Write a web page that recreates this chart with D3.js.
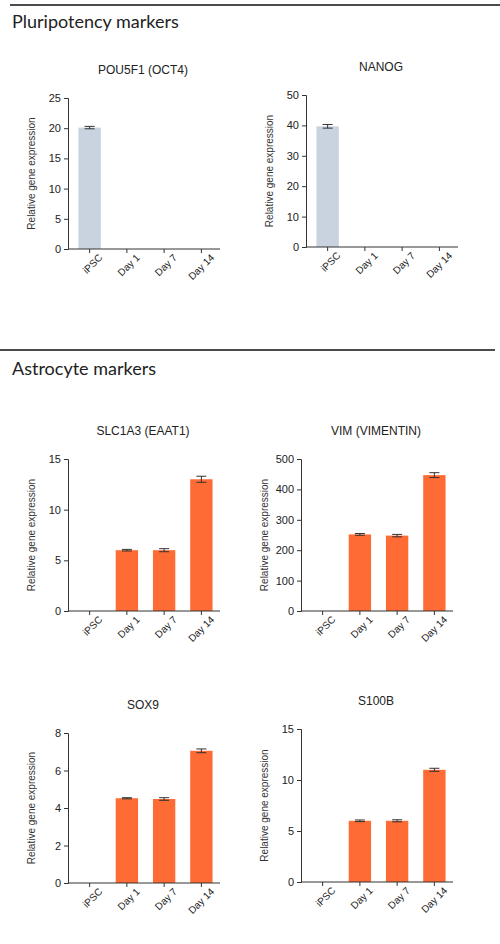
<!DOCTYPE html>
<html><head><meta charset="utf-8">
<script src="https://cdn.jsdelivr.net/npm/d3@7"></script>
<style>body{margin:0;background:#fff;font-family:Lato,"Open Sans",sans-serif}</style>
</head><body><div id="graph"></div>
<script>
var categories = ["iPSC", "Day 1", "Day 7", "Day 14"];

var oct4Values = [20.1, 0, 0, 0],   oct4Err = [0.2, 0, 0, 0],   oct4Ticks = [0, 5, 10, 15, 20, 25];
var nanogValues = [39.7, 0, 0, 0],  nanogErr = [0.6, 0, 0, 0],  nanogTicks = [0, 10, 20, 30, 40, 50];
var slcValues = [0, 6.0, 6.0, 13.0], slcErr = [0, 0.08, 0.15, 0.3], slcTicks = [0, 5, 10, 15];
var vimValues = [0, 252, 248, 447],  vimErr = [0, 3, 4, 8],     vimTicks = [0, 100, 200, 300, 400, 500];
var soxValues = [0, 4.52, 4.48, 7.05], soxErr = [0, 0.03, 0.07, 0.1], soxTicks = [0, 2, 4, 6, 8];
var s100Values = [0, 6.0, 6.0, 11.0], s100Err = [0, 0.08, 0.1, 0.15], s100Ticks = [0, 5, 10, 15];

var panels = [
  {title: "POU5F1 (OCT4)",   v: oct4Values,  e: oct4Err,  t: oct4Ticks,  color: "#c8d3df", x0: 68,  top: 98,  bottom: 249},
  {title: "NANOG",           v: nanogValues, e: nanogErr, t: nanogTicks, color: "#c8d3df", x0: 306, top: 95,  bottom: 247},
  {title: "SLC1A3 (EAAT1)",  v: slcValues,   e: slcErr,   t: slcTicks,   color: "#ff6b35", x0: 68,  top: 459, bottom: 611},
  {title: "VIM (VIMENTIN)",  v: vimValues,   e: vimErr,   t: vimTicks,   color: "#ff6b35", x0: 301, top: 459, bottom: 611},
  {title: "SOX9",            v: soxValues,   e: soxErr,   t: soxTicks,   color: "#ff6b35", x0: 68,  top: 733, bottom: 883},
  {title: "S100B",           v: s100Values,  e: s100Err,  t: s100Ticks,  color: "#ff6b35", x0: 301, top: 729, bottom: 882}
];

var svg = d3.select("#graph").append("svg").attr("width", 500).attr("height", 944);

// section headers
svg.append("line").attr("x1", 10).attr("x2", 500).attr("y1", 5).attr("y2", 5).attr("stroke", "#111").attr("stroke-width", 1.5);
svg.append("text").attr("x", 12).attr("y", 28).attr("font-size", 18).attr("fill", "#222").text("Pluripotency markers");
svg.append("line").attr("x1", 0).attr("x2", 495).attr("y1", 350).attr("y2", 350).attr("stroke", "#111").attr("stroke-width", 1.5);
svg.append("text").attr("x", 12).attr("y", 375).attr("font-size", 18).attr("fill", "#222").text("Astrocyte markers");

panels.forEach(function(p) {
  var x = d3.scaleBand().domain(categories).range([p.x0 + 3, p.x0 + 152]).paddingInner(0.4).paddingOuter(0.2),
      y = d3.scaleLinear().domain([0, d3.max(p.t)]).range([p.bottom, p.top]);
  var g = svg.append("g").attr("font-family", "Liberation Sans, Arial, sans-serif");

  g.append("text").attr("x", p.x0 + 75).attr("y", p.top - 24).attr("text-anchor", "middle")
    .attr("font-size", 12).attr("fill", "#222").text(p.title);

  var data = d3.zip(categories, p.v, p.e).map(function(d) { return {c: d[0], v: d[1], e: d[2]}; });

  g.selectAll(".bar").data(data).enter().append("rect")
    .attr("x", function(d) { return x(d.c); })
    .attr("width", x.bandwidth())
    .attr("y", function(d) { return y(d.v); })
    .attr("height", function(d) { return p.bottom - y(d.v); })
    .attr("fill", p.color);

  var err = data.filter(function(d) { return d.v > 0; });
  g.selectAll(".err").data(err).enter().append("path")
    .attr("d", function(d) {
      var cx = x(d.c) + x.bandwidth() / 2, yt = y(d.v + d.e), yb = y(d.v - d.e);
      return "M" + (cx - 5) + "," + yt + "H" + (cx + 5) + "M" + cx + "," + yt + "V" + yb + "M" + (cx - 5) + "," + yb + "H" + (cx + 5);
    })
    .attr("stroke", "#333").attr("stroke-width", 1).attr("fill", "none");

  var ya = g.append("g").attr("transform", "translate(" + p.x0 + ",0)")
    .call(d3.axisLeft(y).tickValues(p.t).tickSize(4).tickFormat(d3.format("d")));
  ya.selectAll("text").attr("font-size", 11).attr("fill", "#222");
  ya.selectAll("line,path").attr("stroke", "#333");

  var xa = g.append("g").attr("transform", "translate(0," + p.bottom + ")")
    .call(d3.axisBottom(x).tickSize(4));
  xa.select(".domain").attr("d", "M" + p.x0 + ",0H" + (p.x0 + 152));
  xa.selectAll("line,path").attr("stroke", "#333");
  xa.selectAll("text").attr("font-size", 10).attr("fill", "#222")
    .attr("text-anchor", "end").attr("dx", "0.3em").attr("dy", "0.9em")
    .attr("transform", "rotate(-45)");

  g.append("text").attr("transform", "translate(" + (p.x0 - 33) + "," + ((p.top + p.bottom) / 2) + ") rotate(-90)")
    .attr("text-anchor", "middle").attr("font-size", 10).attr("fill", "#333").text("Relative gene expression");
});
</script></body></html>
